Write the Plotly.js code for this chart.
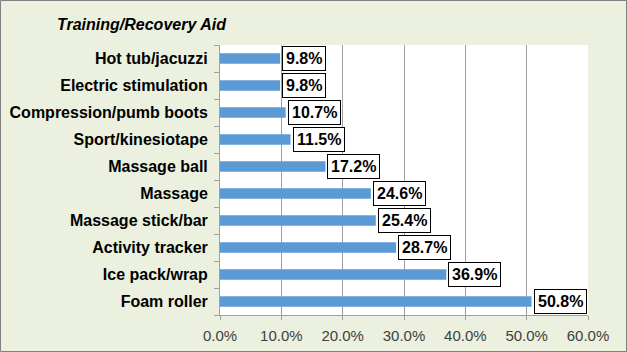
<!DOCTYPE html>
<html>
<head>
<meta charset="utf-8">
<script src="https://cdn.plot.ly/plotly-3.0.1.min.js"></script>
<style>
html,body{margin:0;padding:0;background:#fff;}
#chart{width:627px;height:352px;}
</style>
</head>
<body>
<div id="chart"></div>
<script>
const categories = ["Foam roller","Ice pack/wrap","Activity tracker","Massage stick/bar","Massage","Massage ball","Sport/kinesiotape","Compression/pumb boots","Electric stimulation","Hot tub/jacuzzi"];
const values = [50.8,36.9,28.7,25.4,24.6,17.2,11.5,10.7,9.8,9.8];
const xTickVals = [0,10,20,30,40,50,60];
const xTickText = ["0.0%","10.0%","20.0%","30.0%","40.0%","50.0%","60.0%"];
const chartTitle = "Training/Recovery Aid";

const FONT = "Arial, Liberation Sans, sans-serif";

const trace = {
  type: "bar",
  orientation: "h",
  y: categories,
  x: values,
  marker: {color: "#5B9BD5"},
  width: 0.38,
  hoverinfo: "none"
};

const annotations = values.map((v, i) => ({
  x: v, y: categories[i], xref: "x", yref: "y",
  text: "<b>" + v.toFixed(1) + "%</b>",
  showarrow: false,
  xanchor: "left", yanchor: "middle",
  xshift: 2,
  font: {family: FONT, size: 16, color: "#000"},
  bgcolor: "#fff", bordercolor: "#000", borderwidth: 1, borderpad: 3
}));

const layout = {
  width: 627, height: 352,
  paper_bgcolor: "#EBF1DE",
  plot_bgcolor: "#FFFFFF",
  margin: {l: 220, r: 39, t: 45, b: 37, pad: 0},
  showlegend: false,
  title: {
    text: "<b><i>" + chartTitle + "</i></b>",
    x: 57/627, xanchor: "left", xref: "container",
    y: 1 - 24/352, yanchor: "middle", yref: "container",
    font: {family: FONT, size: 16, color: "#000"}
  },
  xaxis: {
    range: [0, 60],
    tickvals: xTickVals, ticktext: xTickText,
    showgrid: true, gridcolor: "#A0A0A0", gridwidth: 1,
    showline: true, linecolor: "#A0A0A0", linewidth: 1,
    ticks: "outside", ticklen: 4, tickcolor: "#A0A0A0",
    ticklabelstandoff: 3,
    zeroline: false,
    tickfont: {family: FONT, size: 15, color: "#404040"},
    fixedrange: true
  },
  yaxis: {
    type: "category",
    showgrid: false,
    showline: true, linecolor: "#A0A0A0", linewidth: 1,
    ticks: "outside", ticklen: 5, tickcolor: "#A0A0A0",
    tickson: "boundaries",
    ticklabelstandoff: 8,
    tickfont: {family: FONT, size: 16, color: "#000", weight: "bold"},
    fixedrange: true
  },
  annotations: annotations,
  shapes: [{
    type: "rect", xref: "paper", yref: "paper",
    x0: -219.5/368, x1: 1 + 38.5/368, y0: -36.5/270, y1: 1 + 44.5/270,
    line: {color: "#7F7F7F", width: 1}
  }]
};

Plotly.newPlot("chart", [trace], layout, {staticPlot: true, displayModeBar: false});
</script>
</body>
</html>
